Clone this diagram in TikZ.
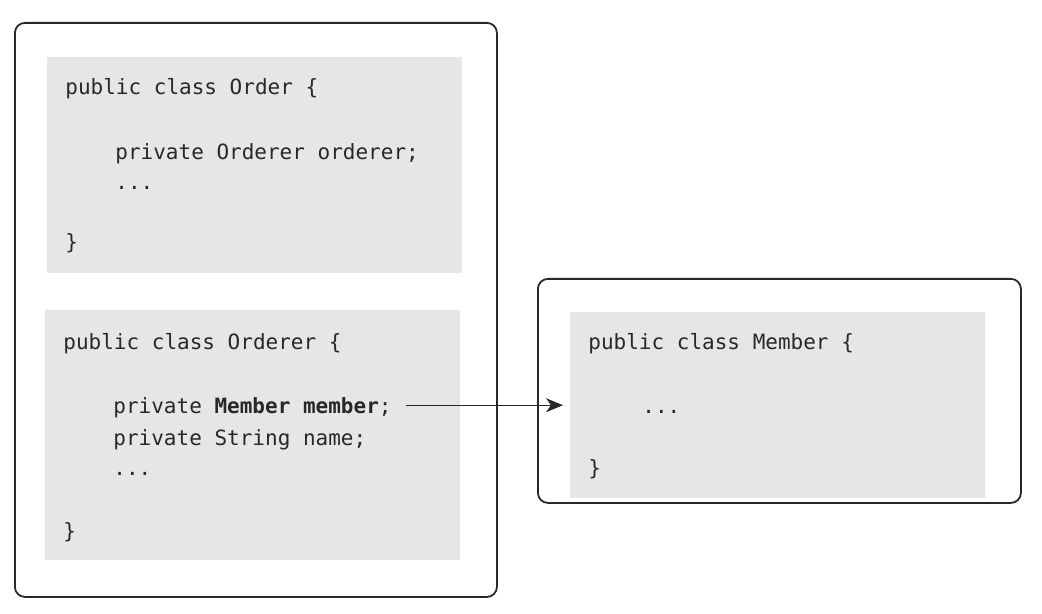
\documentclass[tikz,border=0pt]{standalone}
\usepackage{fontspec}
\setmonofont{DejaVu Sans Mono}
\usetikzlibrary{arrows.meta}
\definecolor{codegray}{RGB}{230,230,230}
\definecolor{ink}{RGB}{40,40,40}
\tikzset{
  outerbox/.style={draw=ink, line width=0.9pt, rounded corners=5pt, anchor=north west, inner sep=0pt},
  codebox/.style={fill=codegray, anchor=north west, inner sep=0pt, minimum width=207.5pt},
  code/.style={anchor=base west, inner sep=0pt, font=\ttfamily\fontsize{10.5}{12}\selectfont, text=ink},
  link/.style={-{Stealth[length=8.5pt,width=7pt,inset=2.5pt]}, draw=ink, line width=0.6pt},
}
\begin{document}
\begin{tikzpicture}[x=0.5pt,y=-0.5pt] % coordonnées en pixels, y vers le bas
\useasboundingbox (0,0) rectangle (1042,614);

% cadres
\node[outerbox, minimum width=241pt, minimum height=287pt] (left) at (14,22) {};
\node[outerbox, minimum width=241.5pt, minimum height=112pt] (right) at (537,278) {};

% blocs de code
\node[codebox, minimum height=108pt] (order) at (47,57) {};
\node[codebox, minimum height=125pt] (orderer) at (45,310) {};
\node[codebox, minimum height=93pt] (member) at (570,312) {};

% classe Order
\node[code] (o1) at (65,95) {public class Order \{};
\node[code] (o2) at (115,160) {private Orderer orderer;};
\node[code] (o3) at (115,190) {...};
\node[code] (o4) at (65,250) {\}};

% classe Orderer
\node[code] (r1) at (63,350) {public class Orderer \{};
\node[code] (mm) at (113,413) {private \textbf{Member member};};
\node[code] (r3) at (113,445) {private String name;};
\node[code] (r4) at (113,475) {...};
\node[code] (r5) at (63,538) {\}};

% classe Member
\node[code] (m1) at (588,350) {public class Member \{};
\node[code] (m2) at (642,413) {...};
\node[code] (m3) at (588,475) {\}};

\draw[link, shorten <=7pt, shorten >=3.5pt] ([yshift=1pt]mm.east) -- ([yshift=1pt]mm.east -| member.west);
\end{tikzpicture}
\end{document}
